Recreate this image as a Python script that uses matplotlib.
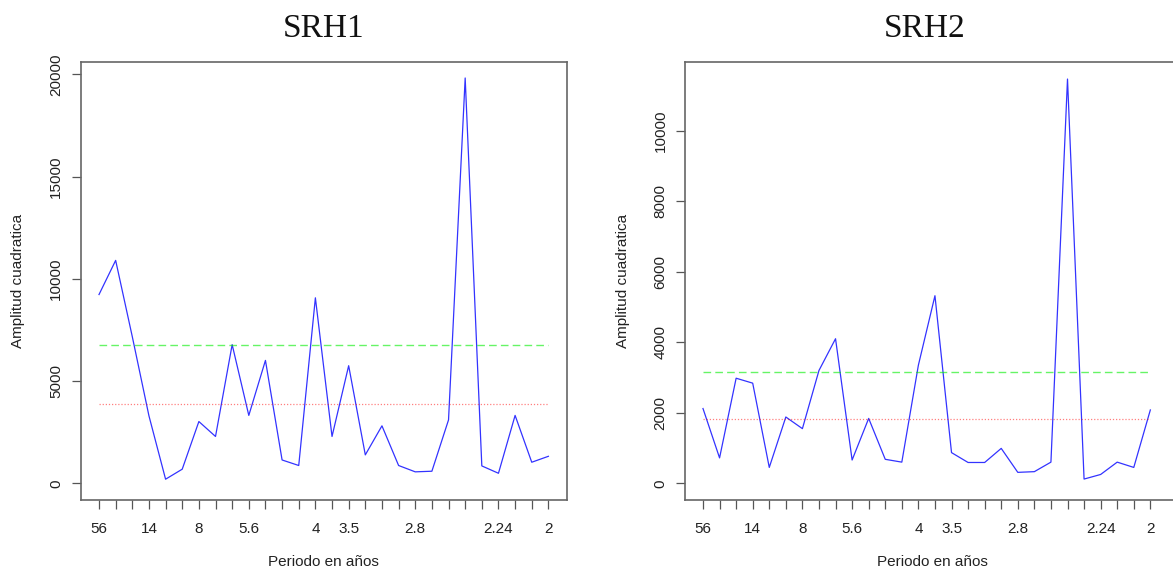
import numpy as np
import matplotlib
matplotlib.use("Agg")
import matplotlib.pyplot as plt

# periods in years: 56/k for k = 1..28
idx = np.arange(1, 29)
tick_pos = [1, 4, 7, 10, 14, 16, 20, 25, 28]
tick_lab = ['56', '14', '8', '5.6', '4', '3.5', '2.8', '2.24', '2']

srh1 = [9230, 10900, 7170, 3300, 200, 690, 3020, 2290, 6780, 3320,
        6010, 1140, 870, 9070, 2290, 5750, 1390, 2810, 870, 560,
        590, 3100, 19820, 850, 490, 3320, 1030, 1320]
srh1_green = 6765
srh1_red = 3890

srh2 = [2120, 720, 2980, 2840, 450, 1880, 1550, 3200, 4100, 660,
        1840, 680, 600, 3350, 5320, 870, 590, 590, 990, 310,
        330, 600, 11465, 120, 250, 600, 450, 2080]
srh2_green = 3166
srh2_red = 1824

W, H = 1173, 574
plt.rcParams['font.family'] = ['Liberation Sans', 'DejaVu Sans']

fig = plt.figure(figsize=(W / 100, H / 100), dpi=100)

def px_axes(left, top, right, bottom):
    return fig.add_axes([left / W, (H - bottom) / H, (right - left) / W, (bottom - top) / H])

def panel(ax, vals, green, red, title, title_x, ylab_x, xlim, ylim, yticks):
    ax.plot(idx, vals, color='#0000ff', lw=0.9, alpha=0.8)
    ax.plot([1, 28], [green, green], color='#00ee00', lw=1.0, alpha=0.6,
            linestyle=(0, (5.5, 3)))
    ax.plot([1, 28], [red, red], color='#ff0000', lw=0.9, alpha=0.5,
            linestyle=(0, (1, 1.5)))
    ax.set_xlim(xlim)
    ax.set_ylim(ylim)
    ax.set_xticks(idx, minor=True)
    ax.set_xticks(tick_pos)
    ax.set_xticklabels(tick_lab)
    ax.set_yticks(yticks)
    ax.set_yticklabels([str(v) for v in yticks], rotation=90, va='center')
    ax.tick_params(which='both', direction='out', length=6.7, width=0.9,
                   color='#555555', labelsize=11, labelcolor='#222222')
    ax.tick_params(axis='x', which='both', pad=9)
    ax.tick_params(axis='y', pad=6)
    for s in ax.spines.values():
        s.set_color('#666666')
        s.set_linewidth(1.2)
    ax.set_xlabel('Periodo en años', fontsize=11, color='#222222')
    ax.xaxis.set_label_coords(0.5, -(562 - 500) / 437.7)
    ax.xaxis.label.set_va('center')
    ax.set_ylabel('Amplitud cuadratica', fontsize=11, color='#222222')
    pos = ax.get_position()
    ax.yaxis.set_label_coords((ylab_x / W - pos.x0) / pos.width, 0.5)
    ax.yaxis.label.set_va('center')
    fig.text(title_x / W, (H - 36.7) / H, title, fontsize=24,
             family='Liberation Serif', ha='center', va='baseline', color='#111111')

ax1 = px_axes(81, 62.3, 566.7, 500)
panel(ax1, srh1, srh1_green, srh1_red, 'SRH1', 324, 18,
      (-0.082, 29.1), (-817, 20587), [0, 5000, 10000, 15000, 20000])

ax2 = px_axes(685.3, 62.3, 1180, 500)
panel(ax2, srh2, srh2_green, srh2_red, 'SRH2', 925, 623,
      (-0.068, 29.79), (-474, 11940), [0, 2000, 4000, 6000, 8000, 10000])

fig.savefig('out.png', dpi=100)
